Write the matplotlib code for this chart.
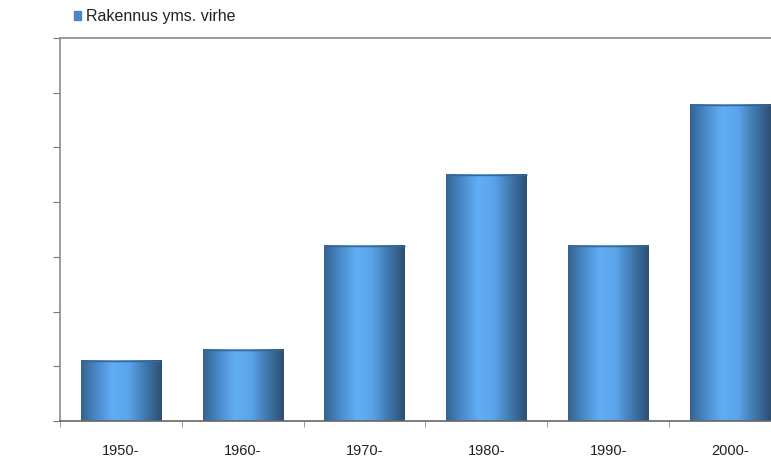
import numpy as np
import matplotlib
matplotlib.use('Agg')
import matplotlib.pyplot as plt
from matplotlib.colors import LinearSegmentedColormap
from matplotlib.patches import Rectangle

plt.rcParams['font.family'] = ['Liberation Sans', 'DejaVu Sans']

categories = ['1950-', '1960-', '1970-', '1980-', '1990-', '2000-']
values = [1.1, 1.3, 3.2, 4.5, 3.2, 5.78]
series_name = 'Rakennus yms. virhe'

fig = plt.figure(figsize=(7.71, 4.6), dpi=100)
# axes runs past the right edge, as in the reference
ax = fig.add_axes([60 / 771, 1 - 422 / 460, 731 / 771, 383 / 460])

bar_cmap = LinearSegmentedColormap.from_list(
    'cyl', ['#35638f', '#4a8bcc', '#62aef4', '#5aa3e8', '#3f77ab', '#2c4f72'])
grad = np.linspace(0, 1, 256).reshape(1, -1)

x = np.arange(len(categories))
width = 0.66
for xi, v in zip(x, values):
    ax.imshow(grad, cmap=bar_cmap, aspect='auto', interpolation='bilinear',
              extent=[xi - width / 2, xi + width / 2, 0, v], zorder=2)
    ax.plot([xi - width / 2, xi + width / 2], [v, v], color='#3a6690',
            lw=1.0, zorder=3, solid_capstyle='butt')

ax.set_xlim(-0.5, len(categories) - 0.5)
ax.set_ylim(0, 7)

ax.set_xticks(x)
ax.set_xticklabels(categories, fontsize=10.5, color='#222222')
ax.tick_params(axis='x', length=0, pad=16)
ax.set_xticks(np.arange(-0.5, len(categories), 1), minor=True)
ax.tick_params(axis='x', which='minor', length=4, direction='out', color='#888888')

ax.set_yticks(np.arange(0, 8, 1))
ax.set_yticklabels([''] * 8)
ax.tick_params(axis='y', length=5, direction='out', color='#777777')

for side in ['left', 'top', 'bottom']:
    ax.spines[side].set_color('#8a8a8a')
    ax.spines[side].set_linewidth(1.2)
ax.spines['bottom'].set_color('#666666')
ax.spines['right'].set_visible(False)

fig.patches.append(Rectangle((74 / 771, 1 - 21 / 460), 7 / 771, 9 / 460,
                             transform=fig.transFigure, color='#4a86c0'))
fig.text(86 / 771, 1 - 17 / 460, series_name, fontsize=11.5, color='#222222',
         va='center', ha='left')

fig.savefig('out.png', dpi=100)
